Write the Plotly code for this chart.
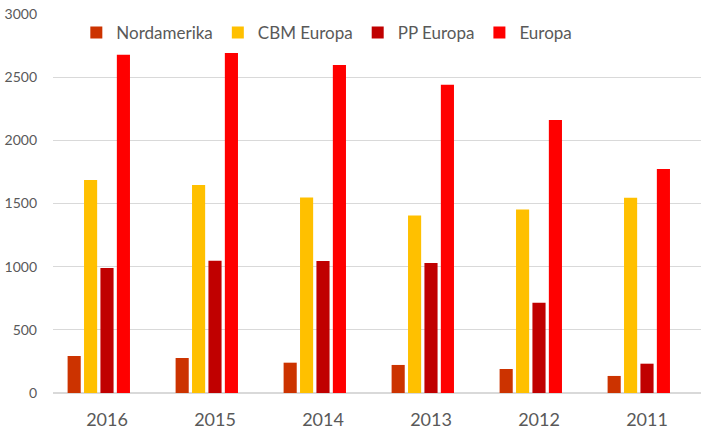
import plotly.graph_objects as go

years = ["2016", "2015", "2014", "2013", "2012", "2011"]
nordamerika = [293, 277, 240, 222, 190, 135]
cbm_europa = [1686, 1647, 1548, 1405, 1452, 1545]
pp_europa = [990, 1047, 1045, 1030, 715, 232]
europa = [2678, 2692, 2597, 2440, 2160, 1773]

series = [
    ("Nordamerika", nordamerika, "#CC3300"),
    ("CBM Europa", cbm_europa, "#FFC000"),
    ("PP Europa", pp_europa, "#C00000"),
    ("Europa", europa, "#FF0000"),
]

fig = go.Figure()
for name, vals, col in series:
    fig.add_trace(go.Bar(x=years, y=vals, name=name, marker_color=col,
                         marker_line_width=0))
# empty fifth series (reserves a slot as in the original)
fig.add_trace(go.Bar(x=years, y=[None] * len(years), name="", showlegend=False,
                     marker_line_width=0, hoverinfo="skip"))

fig.update_layout(
    width=711, height=443,
    margin=dict(l=53, r=10, t=14, b=50, autoexpand=False),
    paper_bgcolor="white", plot_bgcolor="white",
    barmode="group", bargap=0.24, bargroupgap=0.2,
    font=dict(family="Lato, Carlito, Calibri, sans-serif", color="#595959"),
    legend=dict(orientation="h", x=0.036, xanchor="left", y=0.95, yanchor="middle",
                font=dict(size=17, color="#595959"), bgcolor="rgba(0,0,0,0)",
                itemwidth=30, traceorder="normal"),
    xaxis=dict(showgrid=False, showline=True, linecolor="#d9d9d9", linewidth=1,
               tickfont=dict(size=18, color="#595959"), ticks="",
               ticklabelstandoff=10, automargin=False),
    yaxis=dict(range=[0, 3000], dtick=500, showgrid=True, gridcolor="#d9d9d9",
               gridwidth=1, zeroline=True, zerolinecolor="#d9d9d9", showline=False,
               tickfont=dict(size=14, color="#595959"), ticks="",
               ticklabelstandoff=15, automargin=False),
)

fig.write_html("out.html", config={"displayModeBar": False},
               post_script="document.body.style.margin='0';document.body.style.overflow='hidden';")
